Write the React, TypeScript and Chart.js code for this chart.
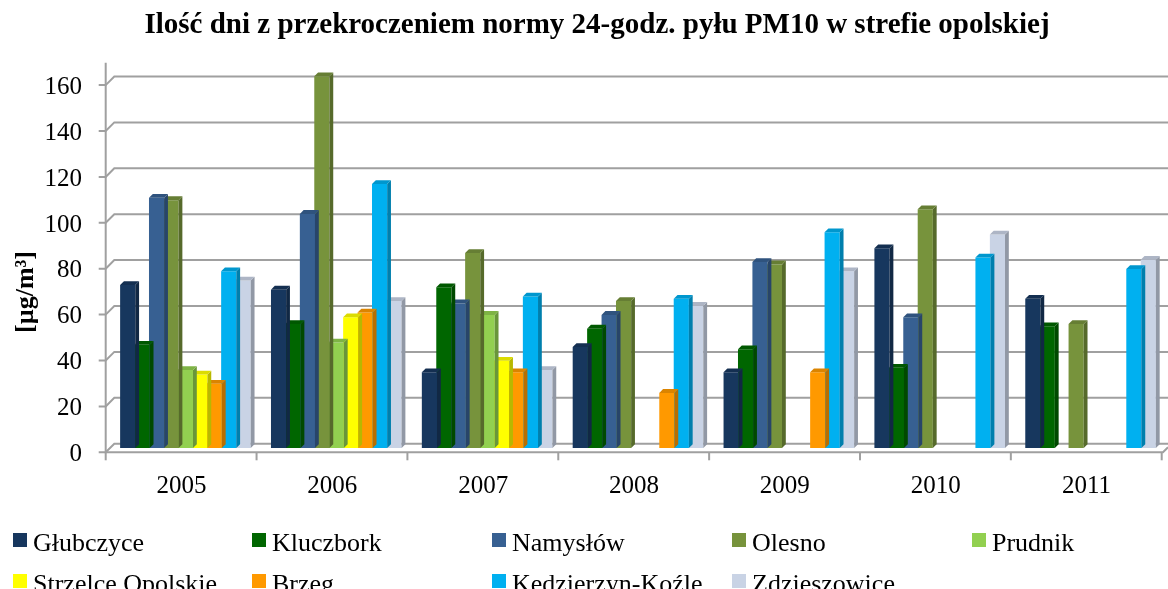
import React, { useEffect, useRef } from "react";
import { Chart, registerables } from "chart.js";

Chart.register(...registerables);

const years = ["2005", "2006", "2007", "2008", "2009", "2010", "2011"];
const seriesNames = [
  "Głubczyce",
  "Kluczbork",
  "Namysłów",
  "Olesno",
  "Prudnik",
  "Strzelce Opolskie",
  "Brzeg",
  "Kędzierzyn-Koźle",
  "Zdzieszowice",
];
const glubczyce = [71, 69, 33, 44, 33, 87, 65];
const kluczbork = [45, 54, 70, 52, 43, 35, 53];
const namyslow = [109, 102, 63, 58, 81, 57, null];
const olesno = [108, 162, 85, 64, 80, 104, 54];
const prudnik = [34, 46, 58, null, null, null, null];
const strzelce = [32, 57, 38, null, null, null, null];
const brzeg = [28, 59, 33, 24, 33, null, null];
const kedzierzyn = [77, 115, 66, 65, 94, 83, 78];
const zdzieszowice = [73, 64, 34, 62, 77, 93, 82];
const seriesValues = [glubczyce, kluczbork, namyslow, olesno, prudnik, strzelce, brzeg, kedzierzyn, zdzieszowice];
const seriesColors = ["#17375E", "#006600", "#376092", "#77933C", "#92D050", "#FFFF00", "#FF9900", "#00B0F0", "#C9D3E5"];
const yTickValues = [0, 20, 40, 60, 80, 100, 120, 140, 160];

const titleText = "Ilość dni z przekroczeniem normy 24-godz. pyłu PM10 w strefie opolskiej";
const yTitleText = "[µg/m³]";

const FONT = "'Liberation Serif', 'Times New Roman', serif";
const DEPTH = 4.3;

function shade(hex: string, f: number) {
  const n = parseInt(hex.slice(1), 16);
  const r = Math.round(((n >> 16) & 255) * f);
  const g = Math.round(((n >> 8) & 255) * f);
  const b = Math.round((n & 255) * f);
  return `rgb(${r},${g},${b})`;
}

const wallPlugin = {
  id: "wall3d",
  beforeDatasetsDraw(chart: any) {
    const { ctx, chartArea, scales } = chart;
    const ys = scales.y;
    const xs = scales.x;
    const { left, top, bottom } = chartArea;
    const W = chart.width;
    ctx.save();
    ctx.strokeStyle = "#a0a0a0";
    ctx.lineWidth = 2;
    ys.ticks.forEach((t: any) => {
      const py = ys.getPixelForValue(t.value);
      ctx.beginPath();
      ctx.moveTo(left - DEPTH - 7, py + DEPTH);
      ctx.lineTo(left - DEPTH, py + DEPTH);
      ctx.lineTo(left + DEPTH, py - DEPTH);
      ctx.lineTo(W, py - DEPTH);
      ctx.stroke();
    });
    ctx.beginPath();
    ctx.moveTo(left - DEPTH, top - 18);
    ctx.lineTo(left - DEPTH, bottom + DEPTH);
    ctx.lineTo(W - 5, bottom + DEPTH);
    ctx.lineTo(W, bottom + DEPTH - 5);
    ctx.stroke();
    const n = chart.data.labels.length;
    const half = (xs.getPixelForValue(1) - xs.getPixelForValue(0)) / 2;
    for (let k = 0; k <= n; k++) {
      const c = xs.getPixelForValue(Math.min(k, n - 1));
      const px = (k < n ? c - half : c + half) - DEPTH;
      ctx.beginPath();
      ctx.moveTo(px, bottom + DEPTH);
      ctx.lineTo(px, bottom + DEPTH + 8);
      ctx.stroke();
    }
    ctx.restore();
  },
};

const barPlugin = {
  id: "bar3d",
  afterDatasetDraw(chart: any, args: any) {
    const { ctx } = chart;
    const ds = chart.data.datasets[args.index];
    const color = ds.backgroundColor as string;
    const meta = args.meta;
    ctx.save();
    meta.data.forEach((el: any, i: number) => {
      if (ds.data[i] == null) return;
      const { x, y, base, width } = el.getProps(["x", "y", "base", "width"], true);
      const x0 = x - width / 2;
      const x1 = x + width / 2;
      const d = 3.8;
      ctx.fillStyle = shade(color, 0.72);
      ctx.beginPath();
      ctx.moveTo(x1, y);
      ctx.lineTo(x1 + d, y - d);
      ctx.lineTo(x1 + d, base - d);
      ctx.lineTo(x1, base);
      ctx.closePath();
      ctx.fill();
      ctx.fillStyle = shade(color, 0.86);
      ctx.beginPath();
      ctx.moveTo(x0, y);
      ctx.lineTo(x0 + d, y - d);
      ctx.lineTo(x1 + d, y - d);
      ctx.lineTo(x1, y);
      ctx.closePath();
      ctx.fill();
    });
    ctx.restore();
  },
};

const textPlugin = {
  id: "texts",
  afterDraw(chart: any) {
    const { ctx } = chart;
    ctx.save();
    ctx.fillStyle = "#000";
    ctx.font = `bold 29px ${FONT}`;
    ctx.textAlign = "center";
    ctx.textBaseline = "alphabetic";
    ctx.fillText(titleText, 597, 33);
    ctx.save();
    ctx.translate(33, 292);
    ctx.rotate(-Math.PI / 2);
    ctx.font = `bold 26px ${FONT}`;
    ctx.textAlign = "center";
    ctx.fillText(yTitleText, 0, 0);
    ctx.restore();
    const cols = [13, 252, 492, 732, 972];
    const rows = [551, 592];
    ctx.font = `26px ${FONT}`;
    ctx.textAlign = "left";
    chart.data.datasets.forEach((ds: any, i: number) => {
      const cx = cols[i % 5];
      const by = rows[Math.floor(i / 5)];
      ctx.fillStyle = ds.backgroundColor;
      ctx.fillRect(cx, by - 18, 14, 14);
      ctx.fillStyle = "#000";
      ctx.fillText(ds.label, cx + 20, by);
    });
    ctx.restore();
  },
};

export default function App() {
  const ref = useRef<HTMLCanvasElement | null>(null);
  useEffect(() => {
    if (!ref.current) return;
    const chart = new Chart(ref.current, {
      type: "bar",
      data: {
        labels: years,
        datasets: seriesNames.map((name, i) => ({
          label: name,
          data: seriesValues[i],
          backgroundColor: seriesColors[i],
          borderWidth: 0,
          categoryPercentage: 0.861,
          barPercentage: 1.05,
          clip: false as any,
        })),
      },
      options: {
        animation: false,
        responsive: false,
        devicePixelRatio: 1,
        layout: { padding: { top: 80.8, right: 2, left: 0, bottom: 0 } },
        plugins: {
          legend: { display: false },
          title: { display: false },
          tooltip: { enabled: false },
        },
        scales: {
          x: {
            grid: { display: false, drawTicks: false },
            border: { display: false },
            ticks: {
              color: "#000",
              font: { family: FONT, size: 25 },
              padding: 23,
              labelOffset: -4,
              maxRotation: 0,
            },
            afterFit: (s: any) => {
              s.height = 141;
            },
          },
          y: {
            min: 0,
            max: 160,
            afterBuildTicks: (s: any) => {
              s.ticks = yTickValues.map((v) => ({ value: v }));
            },
            grid: { display: false, drawTicks: false },
            border: { display: false },
            ticks: {
              color: "#000",
              font: { family: FONT, size: 25 },
              padding: 28,
              labelOffset: 6.5,
            },
            afterFit: (s: any) => {
              s.width = 110;
            },
          },
        },
      },
      plugins: [wallPlugin, barPlugin, textPlugin],
    });
    return () => chart.destroy();
  }, []);
  return (
    <div style={{ position: "absolute", left: 0, top: 0, width: 1168, height: 589, background: "#fff" }}>
      <canvas ref={ref} width={1168} height={589} style={{ display: "block" }} />
    </div>
  );
}
